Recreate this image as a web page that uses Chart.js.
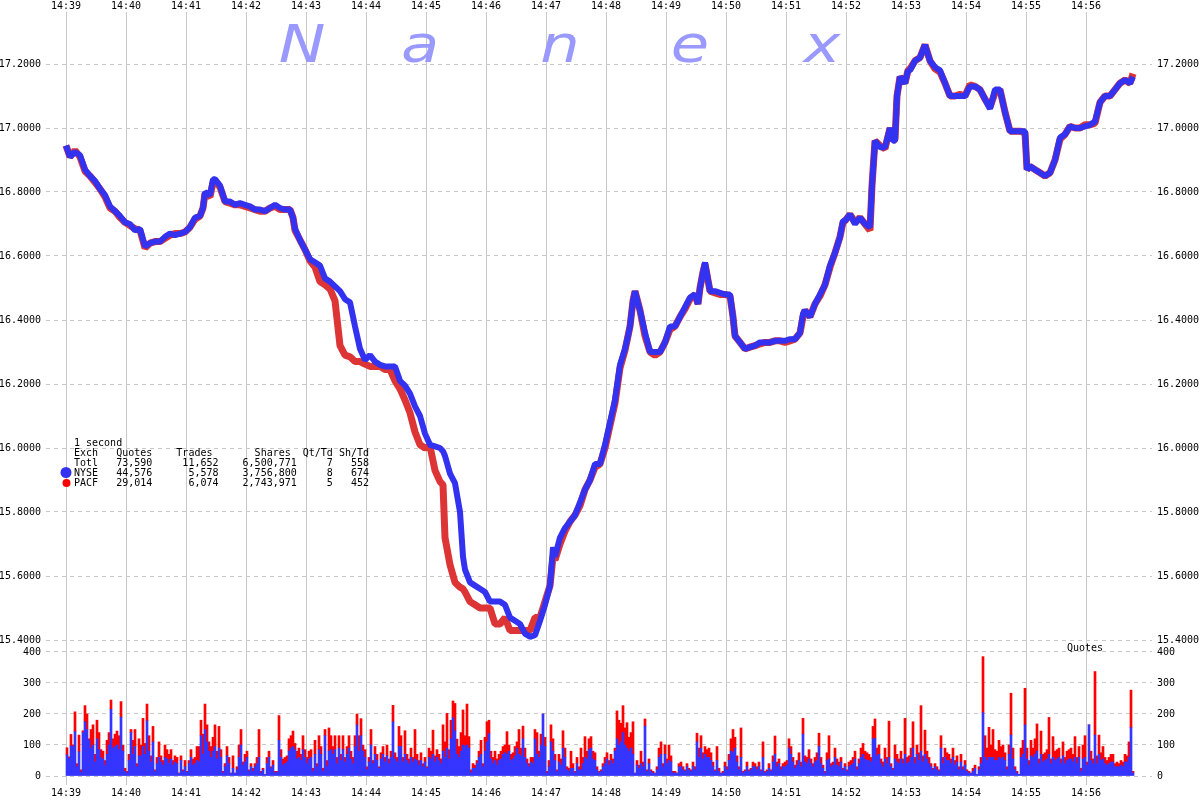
<!DOCTYPE html>
<html><head><meta charset="utf-8">
<script src="https://cdn.jsdelivr.net/npm/chart.js@4.4.1/dist/chart.umd.min.js"></script>
<style>html,body{margin:0;padding:0;background:#fff}canvas{display:block}</style>
</head><body>
<canvas id="c" width="1200" height="800"></canvas>
<script>
// ---- time axis (minutes) ----
const tickLabels = ['14:39','14:40','14:41','14:42','14:43','14:44','14:45','14:46','14:47','14:48','14:49','14:50','14:51','14:52','14:53','14:54','14:55','14:56'];
const priceTicks = [15.4,15.6,15.8,16.0,16.2,16.4,16.6,16.8,17.0,17.2];
const quoteTicks = [0,100,200,300,400];

// ---- price samples: seconds after 14:39:00 ----
const priceTimes = [
0,4,9,14,19,24,29,34,39,44,
49,54,59,64,69,74,79,84,89,94,
99,104,109,114,119,124,129,134,137,139,
144,147,149,154,159,164,169,174,179,184,
189,194,199,204,209,214,219,224,227,229,
234,239,244,249,254,259,264,269,274,279,
284,289,294,299,304,309,314,319,324,329,
334,339,344,349,354,359,364,369,374,377,
379,384,389,394,397,399,404,409,414,419,
424,429,434,439,444,449,454,459,464,469,
474,479,484,487,489,494,499,504,509,514,
519,524,529,534,539,544,549,554,559,562,
564,567,569,574,579,584,589,594,599,604,
609,614,619,624,629,632,634,637,639,644,
649,654,659,664,667,669,674,679,684,689,
694,699,704,709,714,719,724,729,734,737,
739,744,749,754,759,764,769,774,777,779,
784,789,794,799,804,806,809,814,819,824,
827,829,831,834,839,842,844,849,854,859,
864,869,874,879,884,889,894,899,904,909,
914,919,924,929,934,939,944,949,954,959,
961,964,969,974,979,984,989,994,999,1004,
1009,1014,1019,1024,1029,1034,1039,1044,1049,1054,
1059,1064,1067];

const nysePrice = [
16.945,16.91,16.925,16.915,16.87,16.85,16.835,16.81,16.79,16.755,
16.74,16.725,16.705,16.70,16.68,16.685,16.63,16.64,16.645,16.645,
16.66,16.67,16.665,16.67,16.675,16.69,16.72,16.725,16.75,16.80,
16.79,16.84,16.84,16.82,16.77,16.77,16.76,16.765,16.76,16.755,
16.745,16.745,16.74,16.75,16.76,16.75,16.745,16.745,16.72,16.685,
16.65,16.62,16.59,16.58,16.57,16.53,16.52,16.505,16.49,16.465,
16.455,16.38,16.31,16.275,16.29,16.27,16.26,16.255,16.255,16.255,
16.21,16.195,16.17,16.13,16.10,16.045,16.01,16.005,16.0,15.99,
15.975,15.92,15.89,15.80,15.66,15.62,15.58,15.57,15.56,15.55,
15.52,15.52,15.52,15.51,15.47,15.46,15.45,15.42,15.41,15.415,
15.46,15.51,15.57,15.69,15.66,15.72,15.75,15.77,15.79,15.83,
15.87,15.90,15.95,15.95,16.01,16.08,16.15,16.26,16.31,16.35,
16.38,16.46,16.49,16.43,16.36,16.30,16.30,16.30,16.33,16.38,
16.38,16.41,16.44,16.47,16.48,16.45,16.50,16.55,16.58,16.49,
16.49,16.485,16.48,16.48,16.41,16.35,16.33,16.31,16.315,16.32,
16.33,16.33,16.33,16.335,16.335,16.335,16.34,16.34,16.36,16.42,
16.43,16.41,16.45,16.48,16.51,16.57,16.61,16.66,16.71,16.71,
16.73,16.70,16.72,16.70,16.69,16.82,16.96,16.94,16.94,17.00,
16.96,16.96,17.10,17.16,17.14,17.18,17.18,17.21,17.22,17.26,
17.21,17.19,17.18,17.14,17.10,17.10,17.10,17.10,17.13,17.13,
17.12,17.09,17.06,17.12,17.12,17.05,16.99,16.99,16.99,16.99,
16.87,16.88,16.87,16.86,16.85,16.86,16.90,16.97,16.98,17.005,
17.0,17.0,17.005,17.01,17.02,17.08,17.10,17.10,17.12,17.14,
17.15,17.14,17.16];

const pacfPrice = [
16.945,16.91,16.93,16.91,16.865,16.85,16.83,16.81,16.785,16.75,
16.74,16.72,16.705,16.695,16.685,16.68,16.625,16.64,16.645,16.645,
16.655,16.665,16.67,16.67,16.675,16.69,16.715,16.725,16.75,16.795,
16.785,16.83,16.835,16.815,16.77,16.765,16.76,16.76,16.755,16.75,
16.745,16.74,16.74,16.75,16.755,16.745,16.745,16.745,16.72,16.68,
16.65,16.62,16.585,16.565,16.52,16.51,16.497,16.46,16.32,16.29,
16.285,16.27,16.27,16.262,16.255,16.255,16.255,16.245,16.245,16.21,
16.185,16.15,16.11,16.05,16.01,16.0,16.005,15.93,15.895,15.885,
15.72,15.635,15.58,15.565,15.56,15.55,15.52,15.51,15.50,15.50,
15.50,15.45,15.45,15.47,15.43,15.43,15.43,15.43,15.43,15.47,
15.47,15.52,15.57,15.66,15.65,15.70,15.74,15.77,15.79,15.82,
15.87,15.90,15.94,15.95,16.0,16.07,16.14,16.25,16.305,16.35,
16.38,16.46,16.49,16.43,16.35,16.30,16.29,16.30,16.33,16.37,
16.38,16.41,16.435,16.465,16.48,16.45,16.50,16.55,16.575,16.49,
16.485,16.48,16.48,16.475,16.41,16.35,16.33,16.31,16.315,16.32,
16.325,16.33,16.33,16.335,16.335,16.33,16.335,16.34,16.36,16.41,
16.43,16.41,16.45,16.475,16.51,16.565,16.61,16.66,16.705,16.71,
16.73,16.705,16.72,16.70,16.68,16.82,16.96,16.945,16.935,17.0,
16.96,16.965,17.10,17.16,17.14,17.18,17.185,17.21,17.22,17.26,
17.21,17.185,17.175,17.14,17.10,17.10,17.105,17.10,17.135,17.13,
17.12,17.09,17.065,17.11,17.12,17.05,16.99,16.99,16.99,16.985,
16.87,16.88,16.87,16.86,16.85,16.86,16.90,16.965,16.98,17.005,
17.0,17.0,17.01,17.01,17.015,17.08,17.10,17.10,17.12,17.14,
17.15,17.14,17.17];

// ---- quotes per 2-second bin (bin i starts at 2*i seconds after 14:39:00) ----
const nyseQuotes = [
68,57,97,95,143,30,78,12,140,175,
150,116,90,100,45,120,85,
60,55,35,70,100,215,90,
95,100,85,190,80,15,10,
50,140,70,95,30,65,
65,95,70,178,80,45,110,
15,40,60,45,35,60,55,
40,55,35,45,40,8,
50,15,30,12,40,60,35,
40,50,45,130,70,150,110,
80,60,80,95,55,90,
60,10,30,65,40,8,25,
8,20,60,100,35,45,60,
15,30,15,30,40,60,10,
20,5,40,60,25,35,
10,12,115,60,35,40,45,
80,90,95,85,55,60,50,
85,60,40,55,60,15,
70,30,85,70,15,130,30,
80,85,70,85,40,90,
50,85,45,70,90,55,40,
95,165,80,130,80,60,20,
45,100,40,70,50,25,
55,70,45,65,40,60,175,55,45,95,
95,45,70,50,40,60,45,55,50,35,
50,30,45,25,60,55,70,45,60,50,
40,80,60,90,55,120,188,145,70,60,
80,100,95,100,90,10,25,25,40,60,
70,30,80,110,137,55,40,50,35,50,
55,70,75,70,80,50,55,65,90,70,
65,120,60,40,30,45,40,120,70,60,
100,200,95,10,30,110,80,50,15,45,
35,90,60,20,15,25,25,10,40,20,
20,40,60,55,85,90,55,50,20,10,
15,30,40,55,35,50,40,80,120,100,
110,140,100,90,80,90,70,8,35,25,
40,30,161,15,40,15,10,8,20,60,
70,30,70,40,50,45,10,10,8,30,
30,20,15,30,20,15,30,20,110,60,
90,55,70,60,60,50,30,15,50,15,
8,10,30,20,50,80,75,90,45,20,
60,10,15,30,15,20,30,30,20,30,
15,60,10,15,25,
15,45,70,30,40,20,30,30,35,90,
70,45,25,35,50,30,135,45,40,55,
40,30,45,50,95,40,25,10,50,55,
30,35,60,35,30,45,20,30,15,30,
35,40,55,20,40,60,70,55,50,50,
45,120,121,65,70,40,30,55,40,60,
30,20,55,45,40,55,40,70,40,45,
60,90,40,70,50,80,45,70,55,40,
30,20,30,20,15,90,40,60,50,50,
40,60,35,45,20,45,20,35,15,10,
8,15,25,5,20,40,204,60,50,60,
60,60,50,50,60,55,60,50,20,70,
132,55,20,10,5,60,70,165,55,35,
65,60,70,80,40,70,45,50,55,70,
40,60,50,55,60,40,65,40,50,55,
55,45,60,40,60,15,55,60,35,165,
50,40,132,40,70,50,55,40,35,40,
45,45,30,30,30,35,30,45,45,60,
156,10];

const pacfQuotes = [
23,5,37,5,64,10,54,8,6,52,
50,4,60,65,25,60,55,
25,25,15,45,40,30,30,
40,45,45,50,20,10,5,
20,10,45,55,10,55,
35,91,35,54,50,20,50,
5,20,50,20,15,40,30,
30,30,15,20,20,2,
15,5,20,3,10,25,20,
20,45,50,50,65,82,55,
30,35,45,70,25,70,
25,5,10,30,20,2,40,
2,10,40,50,10,25,20,
5,10,10,10,20,90,5,
5,0,20,20,5,15,
5,3,80,25,20,20,20,
40,40,50,20,25,30,20,
45,25,20,25,25,10,
45,10,45,25,10,20,20,
75,45,25,45,20,40,
20,45,15,25,40,25,20,
35,35,50,55,20,25,10,
15,50,10,25,20,5,
20,25,15,35,15,20,53,20,15,65,
35,15,76,20,15,30,15,95,20,15,
25,10,15,5,30,25,78,20,25,20,
15,85,50,112,30,60,54,89,49,35,
60,113,35,132,37,10,15,10,10,20,
45,10,45,65,43,25,20,30,20,20,
25,25,25,73,20,20,20,30,20,80,
25,41,30,15,10,15,20,30,70,20,
35,0,30,5,20,55,40,20,5,25,
20,56,30,10,10,55,15,5,20,10,
70,20,67,25,35,37,25,25,10,5,
5,10,20,20,15,20,15,10,90,80,
60,87,55,82,45,50,105,2,15,10,
40,15,23,5,15,5,5,2,10,30,
40,10,30,15,50,20,5,5,2,10,
15,10,5,10,5,5,15,10,28,30,
40,20,25,25,30,25,15,5,45,10,
2,5,15,10,20,40,75,35,20,10,
95,5,5,15,5,5,15,10,10,15,
5,50,5,5,15,
5,20,59,15,15,10,10,15,15,30,
25,15,10,15,25,15,51,20,20,30,
15,10,15,25,43,20,10,5,25,75,
10,10,30,20,15,15,5,10,5,15,
15,20,25,10,15,30,35,25,25,20,
15,40,63,25,30,15,15,35,20,117,
10,5,45,25,15,25,15,116,20,20,
30,85,20,30,25,147,20,78,25,20,
10,5,10,10,5,40,20,30,25,20,
15,30,15,20,10,25,10,15,5,5,
2,10,10,0,10,20,181,70,40,97,
40,90,35,30,55,40,40,25,10,30,
135,35,10,5,0,30,45,118,35,15,
50,30,50,88,15,75,25,25,30,119,
15,67,30,30,30,15,45,20,30,30,
35,25,67,20,35,10,45,70,10,0,
30,15,205,25,62,25,40,20,15,20,
25,25,10,15,10,15,15,25,20,50,
121,5];

// ---- stats box ----
const statsTitle = '1 second';
const statsHeader = ['Exch','Quotes','Trades','Shares','Qt/Td','Sh/Td'];
const statsRows = [
  ['Totl','73,590','11,652','6,500,771','7','558'],
  ['NYSE','44,576','5,578','3,756,800','8','674'],
  ['PACF','29,014','6,074','2,743,971','5','452']
];
const brandLetters = ['N','a','n','e','x'];
const volumeTitle = 'Quotes';

const BLUE = '#3232f0', RED = '#dd3535', VBLUE = '#3535ff', VRED = '#ff0000';
const GRID = '#c8c8c8';
const FONT = '"DejaVu Sans Mono", monospace';

Chart.defaults.font.family = FONT;
Chart.defaults.font.size = 10;
Chart.defaults.color = '#000';

const pts = (ts, vs) => vs.map((v, i) => ({x: ts[i], y: v}));
const binPts = vs => vs.map((v, i) => ({x: 2 * i + 1, y: v}));

const headerW = [4, 9, 10, 13, 7, 6];
const rowW = [4, 9, 11, 13, 6, 6];
const fmtRow = (cells, w) => cells.map((c, i) => i === 0 ? c.padEnd(w[i]) : c.padStart(w[i])).join('');

const overlay = {
  id: 'overlay',
  beforeDatasetsDraw(chart) {
    const ctx = chart.ctx;
    ctx.save();
    ctx.fillStyle = 'rgb(153,153,255)';
    ctx.font = 'italic 52px "DejaVu Sans"';
    ctx.textAlign = 'center';
    ctx.textBaseline = 'alphabetic';
    const xs = [302, 420, 560, 690, 822];
    brandLetters.forEach((ch, i) => {
      ctx.save();
      ctx.translate(xs[i], 62);
      ctx.scale(1.2, 1);
      ctx.fillText(ch, 0, 0);
      ctx.restore();
    });
    ctx.restore();
  },
  afterDraw(chart) {
    const ctx = chart.ctx;
    ctx.save();
    ctx.fillStyle = '#000';
    ctx.font = '10px ' + FONT;
    ctx.textAlign = 'left';
    ctx.textBaseline = 'middle';
    const x0 = 74;
    ctx.fillText(statsTitle, x0, 443);
    ctx.fillText(fmtRow(statsHeader, headerW), x0, 453);
    statsRows.forEach((r, i) => ctx.fillText(fmtRow(r, rowW), x0, 463 + 10 * i));
    ctx.textAlign = 'center';
    ctx.fillText(volumeTitle, 1085, 648);
    ctx.fillStyle = BLUE;
    ctx.beginPath(); ctx.arc(66, 472.5, 5.5, 0, Math.PI * 2); ctx.fill();
    ctx.fillStyle = VRED;
    ctx.beginPath(); ctx.arc(66.5, 483, 4, 0, Math.PI * 2); ctx.fill();
    ctx.restore();
  }
};

const minuteTicks = s => { s.ticks = tickLabels.map((l, i) => ({value: i * 60})); };
const minuteLabel = v => tickLabels[Math.round(v / 60)];

const priceMin = 15.384375, priceMax = 17.3625, quoteMax = 422.58;

const yPriceCommon = {
  type: 'linear', min: priceMin, max: priceMax, stackWeight: 633,
  afterBuildTicks: s => { s.ticks = priceTicks.map(v => ({value: v})); },
  ticks: {callback: v => v.toFixed(4), padding: 5, autoSkip: false},
  grid: {color: GRID, drawTicks: false, lineWidth: 1},
  border: {display: false, dash: [4, 4]}
};
const yQuoteCommon = {
  type: 'linear', min: 0, max: quoteMax, stackWeight: 131,
  afterBuildTicks: s => { s.ticks = quoteTicks.map(v => ({value: v})); },
  ticks: {callback: v => String(v), padding: 5, autoSkip: false},
  grid: {color: GRID, drawTicks: false, lineWidth: 1},
  border: {display: false, dash: [4, 4]}
};
const noGrid = {display: false, drawTicks: false};

new Chart(document.getElementById('c'), {
  type: 'line',
  data: {
    datasets: [
      {type: 'line', label: 'PACF', data: pts(priceTimes, pacfPrice), xAxisID: 'x', yAxisID: 'yP',
       borderColor: RED, borderWidth: 7, pointRadius: 0, tension: 0, borderJoinStyle: 'bevel', order: 2},
      {type: 'line', label: 'NYSE', data: pts(priceTimes, nysePrice), xAxisID: 'x', yAxisID: 'yP',
       borderColor: BLUE, borderWidth: 6, pointRadius: 0, tension: 0, borderJoinStyle: 'bevel', order: 1},
      {type: 'bar', label: 'NYSE quotes', data: binPts(nyseQuotes), xAxisID: 'x', yAxisID: 'yV', stack: 'q',
       backgroundColor: VBLUE, borderWidth: 0, barThickness: 2, order: 3},
      {type: 'bar', label: 'PACF quotes', data: binPts(pacfQuotes), xAxisID: 'x', yAxisID: 'yV', stack: 'q',
       backgroundColor: VRED, borderWidth: 0, barThickness: 2, order: 4}
    ]
  },
  options: {
    responsive: false,
    animation: false,
    devicePixelRatio: 1,
    layout: {padding: 0},
    plugins: {legend: {display: false}, tooltip: {enabled: false}},
    scales: {
      x: {
        type: 'linear', position: 'bottom', min: -20, max: 1086, offset: false,
        afterBuildTicks: minuteTicks,
        afterFit: s => { s.height = 24; },
        ticks: {callback: minuteLabel, padding: 2, autoSkip: false, maxRotation: 0},
        grid: {color: GRID, drawTicks: true, tickLength: 9, tickColor: GRID, offset: false},
        border: {display: false}
      },
      x2: {
        type: 'linear', position: 'top', min: -20, max: 1086, offset: false,
        afterBuildTicks: minuteTicks,
        afterFit: s => { s.height = 12; },
        ticks: {callback: minuteLabel, padding: 0, autoSkip: false, maxRotation: 0},
        grid: {display: false, drawTicks: false},
        border: {display: false}
      },
      // left stack is laid out in reverse registration order: quotes first, price second
      yV: Object.assign({}, yQuoteCommon, {position: 'left', stack: 'L', stacked: true, afterFit: s => { s.width = 46; }}),
      yP: Object.assign({}, yPriceCommon, {position: 'left', stack: 'L', afterFit: s => { s.width = 46; }}),
      yPR: Object.assign({}, yPriceCommon, {position: 'right', stack: 'R', grid: noGrid, afterFit: s => { s.width = 48; }}),
      yVR: Object.assign({}, yQuoteCommon, {position: 'right', stack: 'R', grid: noGrid, afterFit: s => { s.width = 48; }})
    }
  },
  plugins: [overlay]
});
</script>
</body></html>
